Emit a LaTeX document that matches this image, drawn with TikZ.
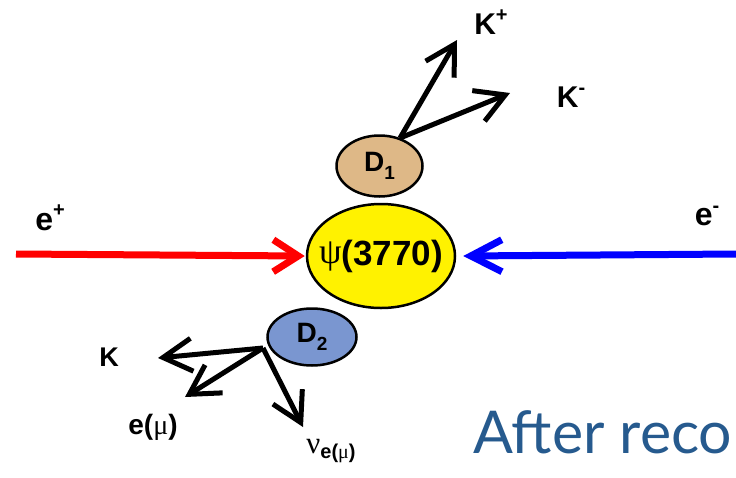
\documentclass[tikz,border=0pt]{standalone}
\usepackage{fontspec}
\setmainfont{Liberation Sans}
\newfontfamily\grk{Liberation Serif}
\newfontfamily\titlefont{Lato}
\usetikzlibrary{arrows.meta,shapes.geometric}
\definecolor{dtan}{RGB}{222,184,135}
\definecolor{dblue}{RGB}{122,150,208}
\definecolor{ttl}{RGB}{38,90,142}
\newcommand{\fs}[1]{\fontsize{#1}{#1}\selectfont}
\newcommand{\sups}[1]{\raisebox{0.42em}{\fs{20}#1}}
\newcommand{\subs}[1]{\raisebox{-0.3em}{\fs{19}#1}}
\begin{document}
\begin{tikzpicture}[x=1pt,y=-1pt,
  rbeam/.style={line width=7pt,-{Straight Barb[length=25pt,width=32pt]}},
  bbeam/.style={line width=7pt,-{Straight Barb[length=31pt,width=32pt]}},
  decay/.style={line width=5pt,-{Straight Barb[length=29pt,width=33pt]}},
  blob/.style={ellipse,draw=black,line width=2.5pt,inner sep=0pt},
  blobtxt/.style={inner sep=0pt,font=\fs{28}\bfseries},
  lbl/.style={inner sep=0pt,font=\fs{32}\bfseries}]
\useasboundingbox (0,0) rectangle (736,477);
\fill[white] (0,0) rectangle (736,477);
% nodes
\node[blob,fill=yellow,minimum width=148pt,minimum height=104pt] (psi) at (381,256) {};
\node[blobtxt] (psit) at (psi.center) {{\grk\fs{36}\mdseries\raisebox{0.05em}{ψ}}\fs{35}(3770)};
\node[blob,fill=dtan,minimum width=86pt,minimum height=61pt] (d1) at (379.5,166) {};
\node[blobtxt] (d1t) at (d1.center) {D\subs{1}};
\node[blob,fill=dblue,minimum width=89pt,minimum height=57pt] (d2) at (312,337) {};
\node[blobtxt] (d2t) at (d2.center) {D\subs{2}};
% labels
\node[lbl] (ep) at (50,218) {e\sups{+}};
\node[lbl] (em) at (707,216) {e\sups{-}};
\node[lbl,font=\fs{30}\bfseries] (kp) at (491,22) {K\sups{+}};
\node[lbl,font=\fs{30}\bfseries] (km) at (571,97) {K\sups{-}};
\node[lbl,font=\fs{27}\bfseries] (k) at (109,357) {K};
\node[lbl,font=\fs{28}\bfseries] (emu) at (153,427) {e({\grk\mdseries μ})};
\node[inner sep=0pt] (nu) at (331,451) {{\grk\fs{31}ν}\raisebox{-0.55em}{\fs{20}\bfseries e({\grk\mdseries μ})}};
% beams
\coordinate (bl) at (16,254);
\coordinate (br) at (736,254);
\draw[rbeam,red] (bl) -- ([xshift=-1pt]psi.west);
\draw[bbeam,blue] (br) -- ([xshift=7pt]psi.east);
% decay arrows
\coordinate (o1) at (400,138);
\coordinate (t1) at (457,40);
\coordinate (t2) at (510,93);
\draw[decay] (o1) -- (t1);
\draw[decay] (o1) -- (t2);
\coordinate (o2) at (263,348);
\coordinate (t3) at (158,358);
\coordinate (t4) at (185,397);
\coordinate (t5) at (303,427);
\draw[decay] (o2) -- (t3);
\draw[decay] (o2) -- (t4);
\draw[decay] (o2) -- (t5);
% title
\begin{scope}
\clip (0,0) rectangle (736,477);
\node[anchor=base west,inner sep=0pt,text=ttl,font=\titlefont\fs{59}] (title) at (473,453) {After reconstruction};
\end{scope}
\end{tikzpicture}
\end{document}
